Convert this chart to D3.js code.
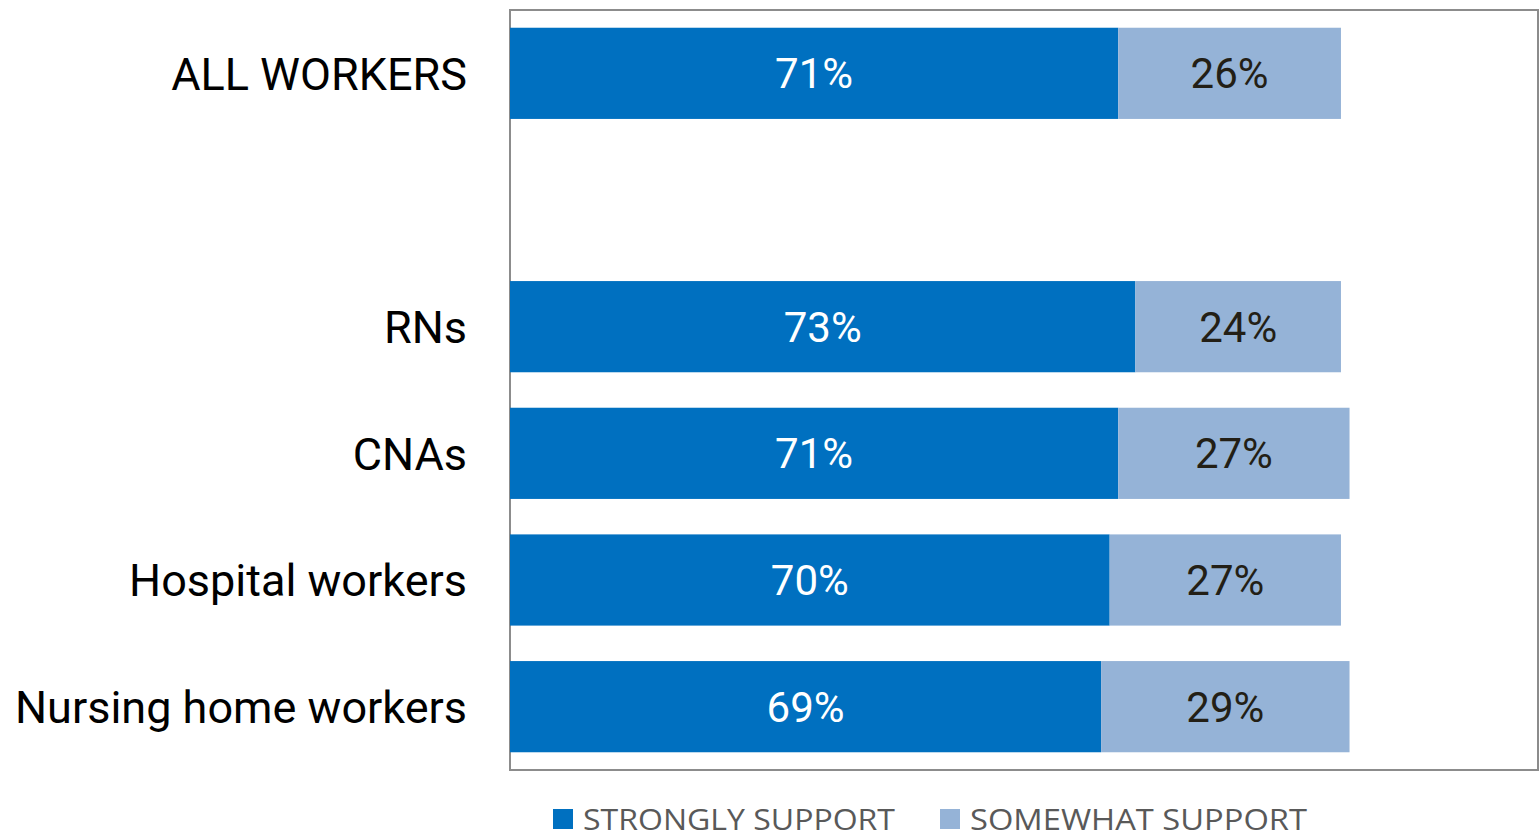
<!DOCTYPE html>
<html>
<head>
  <style>
    body { margin: 0; padding: 0; background: #fff; }
    svg { display: block; }
  </style>
</head>
<body>
  <div id="chart"></div>
  <script src="https://cdnjs.cloudflare.com/ajax/libs/d3/7.8.5/d3.min.js"></script>
  <script>
    // "" is the empty spacer row under ALL WORKERS
    const categories = ['ALL WORKERS', '', 'RNs', 'CNAs', 'Hospital workers', 'Nursing home workers'];
    const strongly = [71, null, 73, 71, 70, 69];
    const somewhat = [26, null, 24, 27, 27, 29];
    const seriesNames = ['STRONGLY SUPPORT', 'SOMEWHAT SUPPORT'];
    const seriesColors = ['#0070C0', '#95B3D7'];

    const width = 1540, height = 835;
    const box = { left: 510, top: 10, right: 1538, bottom: 770 };

    const svg = d3.select('#chart').append('svg')
      .attr('width', width)
      .attr('height', height);

    const x = d3.scaleLinear().domain([0, 120]).range([box.left, box.right]);
    const y = d3.scaleBand()
      .domain(categories.map((c, i) => i))
      .range([box.top, box.bottom])
      .paddingInner(0.28)
      .paddingOuter(0.14);

    // plot border
    svg.append('rect')
      .attr('x', box.left)
      .attr('y', box.top)
      .attr('width', box.right - box.left)
      .attr('height', box.bottom - box.top)
      .attr('fill', 'none')
      .attr('stroke', '#8c8c8c')
      .attr('stroke-width', 2);

    const rows = categories.map((c, i) => ({ cat: c, i, s: strongly[i], w: somewhat[i] }))
      .filter(d => d.s != null);

    const g = svg.append('g');

    // strongly support bars
    g.selectAll('.bar-s').data(rows).enter().append('rect')
      .attr('x', x(0))
      .attr('y', d => y(d.i))
      .attr('width', d => x(d.s) - x(0))
      .attr('height', y.bandwidth())
      .attr('fill', seriesColors[0]);

    // somewhat support bars
    g.selectAll('.bar-w').data(rows).enter().append('rect')
      .attr('x', d => x(d.s))
      .attr('y', d => y(d.i))
      .attr('width', d => x(d.s + d.w) - x(d.s))
      .attr('height', y.bandwidth())
      .attr('fill', seriesColors[1]);

    const labelFont = 'Roboto, "Liberation Sans", sans-serif';

    g.selectAll('.lab-s').data(rows).enter().append('text')
      .attr('x', d => (x(0) + x(d.s)) / 2)
      .attr('y', d => y(d.i) + y.bandwidth() / 2)
      .attr('dy', '0.36em')
      .attr('text-anchor', 'middle')
      .attr('font-family', labelFont)
      .attr('font-size', 42)
      .attr('fill', '#fff')
      .text(d => d.s + '%');

    g.selectAll('.lab-w').data(rows).enter().append('text')
      .attr('x', d => (x(d.s) + x(d.s + d.w)) / 2)
      .attr('y', d => y(d.i) + y.bandwidth() / 2)
      .attr('dy', '0.36em')
      .attr('text-anchor', 'middle')
      .attr('font-family', labelFont)
      .attr('font-size', 42)
      .attr('fill', '#231f16')
      .text(d => d.w + '%');

    // category labels
    svg.selectAll('.cat').data(rows).enter().append('text')
      .attr('x', 467)
      .attr('y', d => y(d.i) + y.bandwidth() / 2)
      .attr('dy', '0.36em')
      .attr('text-anchor', 'end')
      .attr('font-family', labelFont)
      .attr('font-size', 45)
      .attr('fill', '#000')
      .text(d => d.cat);

    // legend
    const legendX = [553, 940];
    const legend = svg.selectAll('.legend').data(seriesNames).enter().append('g')
      .attr('transform', (d, i) => `translate(${legendX[i]},809)`);
    legend.append('rect')
      .attr('width', 20).attr('height', 20)
      .attr('fill', (d, i) => seriesColors[i]);
    legend.append('text')
      .attr('x', 30)
      .attr('y', 21)
      .attr('font-family', '"Open Sans", sans-serif')
      .attr('font-size', 29)
      .attr('fill', '#595959')
      .attr('textLength', (d, i) => i === 0 ? 312 : 337)
      .attr('lengthAdjust', 'spacingAndGlyphs')
      .text(d => d);
  </script>
</body>
</html>
